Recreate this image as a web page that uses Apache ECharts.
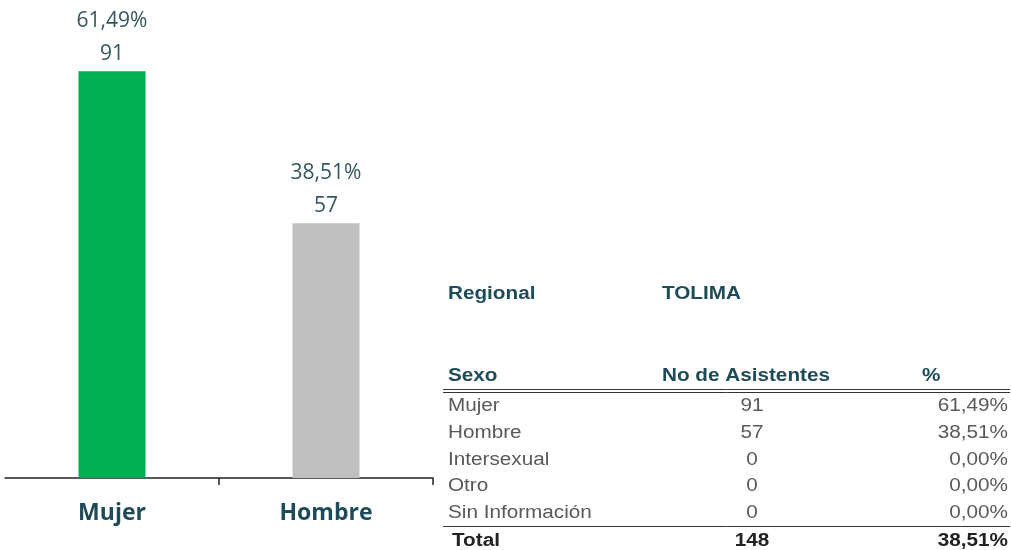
<!DOCTYPE html>
<html>
<head>
<meta charset="utf-8">
<script src="https://cdn.jsdelivr.net/npm/echarts@6/dist/echarts.min.js"></script>
<style>
  html, body { margin: 0; padding: 0; background: #fff; }
  #chart { width: 1011px; height: 550px; }
</style>
</head>
<body>
<div id="chart"></div>
<script>
// datos del grafico
const categorias = ["Mujer", "Hombre"];
const asistentes = [91, 57];
const porcentajes = [61.49, 38.51];

// datos de la tabla
const regional = "TOLIMA";
const filasSexo = ["Mujer", "Hombre", "Intersexual", "Otro", "Sin Información"];
const filasAsistentes = [91, 57, 0, 0, 0];
const filasPorcentaje = [61.49, 38.51, 0, 0, 0];
const totalAsistentes = 148;
const totalPorcentaje = 38.51;

const fmtPct = v => v.toFixed(2).replace(".", ",") + "%";

const colorBarras = ["#00b050", "#bfbfbf"];
const tealOscuro = "#1d4b58";
const gris = "#595959";

const chart = echarts.init(document.getElementById("chart"));

// textos de la tabla (la fuente original es algo mas ancha, se estira en x)
const graficos = [];
const txt = (x, y, text, opts) => graficos.push({
  type: "text", x: x, y: y, scaleX: 1.15, silent: true,
  style: Object.assign({
    text: text, fontFamily: "'Liberation Sans', Arial", fontSize: 18,
    fill: gris, textVerticalAlign: "middle", textAlign: "left"
  }, opts || {})
});
const linea = (y, w) => graficos.push({
  type: "line", silent: true,
  shape: { x1: 443, y1: y, x2: 1010, y2: y },
  style: { stroke: "#333", lineWidth: w || 1 }
});

txt(448, 294, "Regional", { fontWeight: "bold", fill: tealOscuro });
txt(662, 294, regional, { fontWeight: "bold", fill: tealOscuro });
txt(448, 376, "Sexo", { fontWeight: "bold", fill: tealOscuro });
txt(662, 376, "No de Asistentes", { fontWeight: "bold", fill: tealOscuro });
txt(922, 376, "%", { fontWeight: "bold", fill: tealOscuro });
linea(389.5);
linea(392.5);
filasSexo.forEach((s, i) => {
  const y = 406 + i * 26.8;
  txt(448, y, s);
  txt(752, y, String(filasAsistentes[i]), { textAlign: "center" });
  txt(1008, y, fmtPct(filasPorcentaje[i]), { textAlign: "right" });
});
linea(526.5);
txt(452, 541, "Total", { fontWeight: "bold", fill: "#222" });
txt(752, 541, String(totalAsistentes), { fontWeight: "bold", fill: "#222", textAlign: "center" });
txt(1008, 541, fmtPct(totalPorcentaje), { fontWeight: "bold", fill: "#222", textAlign: "right" });

const option = {
  backgroundColor: "#fff",
  animation: false,
  grid: { left: 5, right: 578, top: 31, bottom: 72 },
  xAxis: [{
    type: "category",
    data: categorias,
    axisLine: { show: true, lineStyle: { color: "#222", width: 1.5 } },
    axisTick: { show: false },
    axisLabel: {
      margin: 24,
      fontFamily: "Open Sans",
      fontWeight: "bold",
      fontSize: 23,
      color: tealOscuro
    }
  }, {
    // eje auxiliar solo para las marcas entre categorias (sin la primera)
    type: "value",
    position: "bottom",
    min: 0,
    max: categorias.length,
    interval: 1,
    axisLine: { show: false },
    axisLabel: { show: false },
    splitLine: { show: false },
    axisTick: {
      show: true,
      length: 7,
      customValues: categorias.map((c, i) => i + 1),
      lineStyle: { color: "#222", width: 1.5 }
    }
  }],
  yAxis: {
    type: "value",
    min: 0,
    max: 100,
    show: false,
    splitLine: { show: false }
  },
  series: [{
    type: "bar",
    xAxisIndex: 0,
    barWidth: 67,
    data: asistentes.map((v, i) => ({ value: v, itemStyle: { color: colorBarras[i] } })),
    label: {
      show: true,
      position: "top",
      distance: 1,
      fontFamily: "Open Sans",
      fontSize: 21,
      lineHeight: 33,
      color: "#35575f",
      formatter: p => fmtPct(porcentajes[p.dataIndex]) + "\n" + p.value
    }
  }],
  graphic: graficos
};

chart.setOption(option);
</script>
</body>
</html>
